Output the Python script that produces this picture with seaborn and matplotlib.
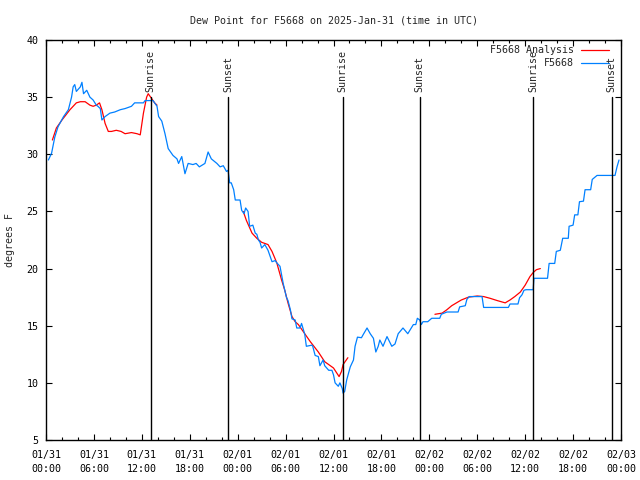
import matplotlib
matplotlib.use("Agg")
import matplotlib.pyplot as plt
import matplotlib.dates as mdates
import seaborn as sns
import pandas as pd
import numpy as np

# ---------------- data (hours since 2025-01-31 00:00 UTC) ----------------
obs_hours = [0.3, 0.7, 1.1, 1.5, 2.2, 2.8, 3.2, 3.4, 3.6, 3.8, 4.3, 4.5, 4.7, 5.1, 5.5, 5.9,
             6.3, 6.5, 6.8, 7.0, 7.4, 8.0, 8.6, 9.3, 9.9, 10.7, 11.1, 12.2, 12.4, 13.4, 13.9,
             14.1, 14.5, 14.9, 15.3, 15.9, 16.4, 16.6, 17.0, 17.4, 17.8, 18.4, 18.8, 19.2, 19.9,
             20.3, 20.7, 21.4, 21.8, 22.2, 22.6, 22.8, 23.0, 23.2, 23.5, 23.7, 24.3, 24.5, 24.8,
             25.0, 25.3, 25.5, 25.9, 26.2, 26.4, 26.6, 26.8, 27.0, 27.4, 27.8, 28.3, 28.7, 28.9,
             29.3, 29.7, 29.9, 30.1, 30.3, 30.6, 30.8, 31.2, 31.4, 31.8, 32.0, 32.4, 32.6, 33.3,
             33.4, 33.7, 34.1, 34.3, 34.7, 34.9, 35.4, 35.8, 36.0, 36.2, 36.6, 36.8, 37.1, 37.2,
             37.4, 37.65, 38.1, 38.5, 38.7, 39.0, 39.5, 39.7, 40.2, 40.6, 41.0, 41.3, 41.6, 41.8,
             42.2, 42.7, 43.3, 43.7, 44.1, 44.7, 45.3, 46.0, 46.3, 46.5, 46.8, 47.0, 47.2, 47.8,
             48.3, 49.3, 49.5, 50.2, 51.6, 51.8, 52.5, 52.7, 53.0, 54.6, 54.8, 57.9, 58.1, 59.1,
             59.3, 59.6, 59.85, 60.1, 61.0, 61.1, 62.8, 63.0, 63.7, 63.9, 64.4, 64.7, 65.4, 65.5,
             66.0, 66.2, 66.6, 66.8, 67.3, 67.5, 68.2, 68.4, 69.0, 71.25, 71.5, 71.75]
obs_values = [29.5, 30.1, 31.5, 32.4, 33.3, 33.9, 35.0, 35.9, 36.1, 35.5, 35.9, 36.3, 35.3, 35.6, 35.0, 34.75,
              34.3, 34.2, 34.0, 33.0, 33.3, 33.6, 33.7, 33.9, 34.0, 34.2, 34.5, 34.5, 34.7, 34.7, 34.2,
              33.3, 32.9, 31.8, 30.5, 29.9, 29.6, 29.2, 29.8, 28.3, 29.2, 29.1, 29.2, 28.9, 29.2,
              30.2, 29.6, 29.2, 28.9, 29.0, 28.5, 28.6, 27.5, 27.5, 26.9, 26.0, 26.0, 25.1, 24.8,
              25.3, 25.0, 23.7, 23.8, 23.1, 23.0, 22.5, 22.3, 21.8, 22.1, 21.6, 20.6, 20.7, 20.5,
              20.2, 18.7, 18.1, 17.5, 17.2, 16.4, 15.6, 15.5, 14.8, 14.8, 15.2, 14.25, 13.2, 13.3,
              13.2, 12.4, 12.3, 11.5, 12.0, 11.5, 11.1, 11.1, 10.7, 10.0, 9.7, 10.0, 9.5, 9.1,
              9.25, 10.25, 11.4, 12.0, 13.2, 14.0, 13.95, 14.2, 14.8, 14.3, 13.9, 12.7, 13.2, 13.75,
              13.2, 14.05, 13.2, 13.4, 14.3, 14.8, 14.3, 15.1, 15.1, 15.65, 15.5, 15.1, 15.35, 15.35,
              15.65, 15.65, 16.0, 16.2, 16.2, 16.65, 16.75, 17.3, 17.55, 17.55, 16.6, 16.6, 16.9, 16.9,
              17.45, 17.7, 18.1, 18.15, 18.15, 19.15, 19.15, 20.45, 20.45, 21.5, 21.6, 22.65, 22.65, 23.7,
              23.8, 24.7, 24.7, 25.85, 25.9, 26.9, 26.9, 27.8, 28.15, 28.15, 28.9, 29.5]

ana1_hours = [0.8, 1.3, 2.0, 3.0, 3.8, 4.3, 4.9, 5.5, 5.9, 6.3, 6.7, 7.0, 7.4, 7.8, 8.2, 8.8,
              9.4, 9.9, 10.7, 11.4, 11.8, 12.2, 12.6, 12.8, 13.2, 13.6, 13.9]
ana1_values = [31.25, 32.3, 33.0, 33.9, 34.5, 34.6, 34.6, 34.3, 34.2, 34.3, 34.5, 33.9, 32.7, 32.0, 32.0, 32.1,
               32.0, 31.8, 31.9, 31.8, 31.7, 33.6, 35.0, 35.3, 34.9, 34.5, 34.3]
ana2_hours = [24.7, 25.1, 25.8, 26.4, 27.0, 27.8, 28.3, 28.9, 29.5, 29.9, 30.3, 30.8, 31.2, 31.6,
              32.2, 33.1, 34.1, 34.9, 36.0, 36.7, 37.0, 37.2, 37.8]
ana2_values = [25.0, 24.2, 23.1, 22.65, 22.3, 22.1, 21.5, 20.5, 19.0, 18.1, 17.0, 15.8, 15.35, 15.1,
               14.5, 13.6, 12.7, 11.85, 11.3, 10.55, 11.0, 11.6, 12.2]
ana3_hours = [48.7, 49.6, 50.2, 50.8, 51.4, 52.0, 52.9, 54.0, 54.8, 55.6, 56.5, 57.5, 58.1, 58.7,
              59.4, 60.0, 60.6, 61.0, 61.4, 61.9]
ana3_values = [16.0, 16.1, 16.4, 16.75, 17.0, 17.25, 17.5, 17.6, 17.55, 17.4, 17.2, 17.0, 17.25, 17.55,
               17.95, 18.55, 19.3, 19.65, 19.9, 20.0]

sun_hours = [13.1, 22.8, 37.15, 46.8, 61.0, 70.85]
sun_labels = ["Sunrise", "Sunset", "Sunrise", "Sunset", "Sunrise", "Sunset"]

title = "Dew Point for F5668 on 2025-Jan-31 (time in UTC)"
ylabel = "degrees F"
legend_labels = ["F5668 Analysis", "F5668"]

# ---------------- build frames ----------------
base = pd.Timestamp("2025-01-31 00:00")
def to_time(h):
    return base + pd.to_timedelta(np.asarray(h, dtype=float), unit="h")

obs_df = pd.DataFrame({"time": to_time(obs_hours), "value": obs_values})
ana_df = pd.concat([
    pd.DataFrame({"time": to_time(h), "value": v, "seg": i})
    for i, (h, v) in enumerate([(ana1_hours, ana1_values),
                                (ana2_hours, ana2_values),
                                (ana3_hours, ana3_values)])
], ignore_index=True)

# ---------------- style ----------------
sns.set_style("ticks")
FONT = "DejaVu Sans Mono"
FS = 7.2
plt.rcParams["font.family"] = [FONT, "DejaVu Sans"]
plt.rcParams["font.size"] = FS

RED = "#ff0000"
BLUE = "#0080ff"

fig = plt.figure(figsize=(6.4, 4.8), dpi=100)
ax = fig.add_axes([46 / 640, 1 - 440 / 480, 575 / 640, 400 / 480])

sns.lineplot(data=ana_df, x="time", y="value", units="seg", estimator=None,
             color=RED, lw=0.9, ax=ax, legend=False, sort=False)
sns.lineplot(data=obs_df, x="time", y="value", estimator=None,
             color=BLUE, lw=0.9, ax=ax, legend=False, sort=False)

# sunrise / sunset markers
for h, lab in zip(sun_hours, sun_labels):
    t = to_time([h])[0]
    ax.axvline(t, ymin=0, ymax=0.8575, color="black", lw=1.0)
    ax.text(t, 0.87, lab, transform=ax.get_xaxis_transform(), rotation=90,
            ha="center", va="bottom", fontsize=FS, family=FONT)

# axes limits / ticks
ax.set_xlim(base, base + pd.Timedelta(hours=72))
ax.set_ylim(5, 40)
ax.set_yticks(np.arange(5, 41, 5))
ax.xaxis.set_major_locator(mdates.HourLocator(byhour=[0, 6, 12, 18]))
ax.xaxis.set_minor_locator(mdates.HourLocator(byhour=list(range(0, 24, 2))))
ax.xaxis.set_major_formatter(mdates.DateFormatter("%m/%d\n%H:%M"))

ax.tick_params(axis="both", which="both", direction="in", top=True, right=True,
               colors="black", width=0.8)
ax.tick_params(axis="x", which="major", length=4, pad=7)
ax.tick_params(axis="x", which="minor", length=2)
ax.tick_params(axis="y", which="major", length=4, pad=5.3)
for lab in ax.get_xticklabels():
    lab.set_linespacing(1.55)
    lab.set_family(FONT)
for lab in ax.get_yticklabels():
    lab.set_family(FONT)

for sp in ax.spines.values():
    sp.set_visible(True)
    sp.set_color("black")
    sp.set_linewidth(1.0)

ax.set_xlabel("")
ax.set_ylabel(ylabel, fontsize=FS, family=FONT)
ax.yaxis.set_label_coords((15 - 46) / 575, 0.5)
ax.set_title(title, fontsize=FS, family=FONT, pad=11.7)

# legend drawn gnuplot-style (right-justified text, sample on the right)
leg_rows = [(legend_labels[0], RED, (440 - 50.3) / 400),
            (legend_labels[1], BLUE, (440 - 63.0) / 400)]
for lab, col, yy in leg_rows:
    ax.text((574 - 46) / 575, yy, lab, transform=ax.transAxes, ha="right",
            va="center", fontsize=FS, family=FONT)
    ax.plot([(581 - 46) / 575, (609 - 46) / 575], [yy, yy], color=col, lw=0.9,
            transform=ax.transAxes, clip_on=False)

fig.savefig("out.png", dpi=100)
